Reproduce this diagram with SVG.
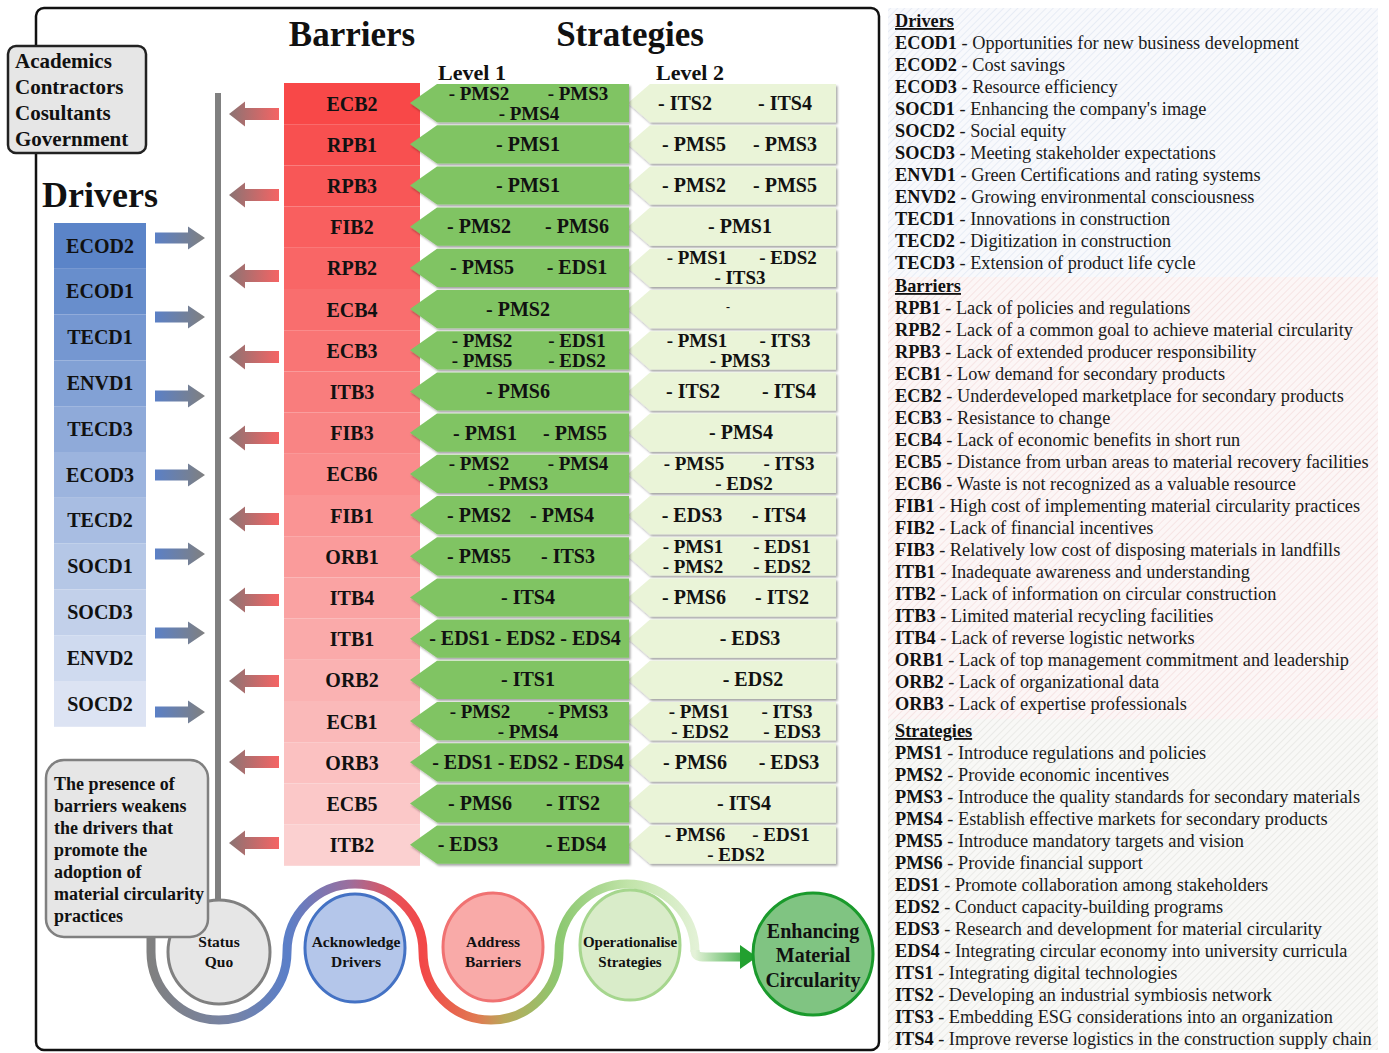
<svg xmlns="http://www.w3.org/2000/svg" xmlns:xlink="http://www.w3.org/1999/xlink" width="1389" height="1053" viewBox="0 0 1389 1053">
<style>
.b{font-family:"Liberation Serif","Times New Roman",serif;font-weight:bold;fill:#111}
.r{font-family:"Liberation Serif","Times New Roman",serif;fill:#1a1a1a}
.c19{font-size:20px;text-anchor:middle}
.c18{font-size:19px;text-anchor:middle}
.c20{font-size:20px;text-anchor:middle}
.lg{font-size:18.3px}
.hd{font-size:18.3px;font-weight:bold;text-decoration:underline}
.g1{fill:#80c464}
.g2{fill:#eaf4d8}
.sh{filter:url(#ds)}
</style>
<defs>
<filter id="ds" x="-5%" y="-10%" width="115%" height="135%"><feDropShadow dx="1.5" dy="2" stdDeviation="0.8" flood-color="#000" flood-opacity="0.35"/></filter>
<linearGradient id="gb" x1="0" y1="0" x2="1" y2="0"><stop offset="0" stop-color="#5b80c6"/><stop offset="1" stop-color="#808080"/></linearGradient>
<linearGradient id="gr" x1="0" y1="0" x2="1" y2="0"><stop offset="0" stop-color="#8a7373"/><stop offset="1" stop-color="#f56464"/></linearGradient>
<path id="ba" d="M0 -5.5 H33 V-11.5 L50 0 L33 11.5 V5.5 H0 Z" fill="url(#gb)"/>
<path id="ra" d="M0 0 L16 -12.5 V-6 H50 V6 H16 V12.5 Z" fill="url(#gr)"/>
<path id="cA" d="M27 0 H219 V38.2 H27 L0 19.1 Z"/>
<path id="cB" d="M22 0 H208 V38.2 H22 L0 19.1 Z"/>
<linearGradient id="w1" gradientUnits="userSpaceOnUse" x1="151" y1="0" x2="287" y2="0"><stop offset="0" stop-color="#808080"/><stop offset="0.6" stop-color="#7683a6"/><stop offset="1" stop-color="#5b7fc8"/></linearGradient>
<linearGradient id="w2" gradientUnits="userSpaceOnUse" x1="287" y1="0" x2="423" y2="0"><stop offset="0" stop-color="#5b7fc8"/><stop offset="0.45" stop-color="#9a6f9e"/><stop offset="0.8" stop-color="#e85058"/><stop offset="1" stop-color="#f24848"/></linearGradient>
<linearGradient id="w3" gradientUnits="userSpaceOnUse" x1="423" y1="0" x2="559" y2="0"><stop offset="0" stop-color="#f24848"/><stop offset="0.4" stop-color="#e07a52"/><stop offset="0.6" stop-color="#b9a85a"/><stop offset="1" stop-color="#8cc870"/></linearGradient>
<linearGradient id="w4" gradientUnits="userSpaceOnUse" x1="559" y1="0" x2="700" y2="0"><stop offset="0" stop-color="#8cc870"/><stop offset="0.5" stop-color="#c2e4aa"/><stop offset="1" stop-color="#e4f2d8"/></linearGradient>
<linearGradient id="w5" gradientUnits="userSpaceOnUse" x1="695" y1="0" x2="757" y2="0"><stop offset="0" stop-color="#e4f2d8"/><stop offset="1" stop-color="#22a030"/></linearGradient>
<pattern id="pb" width="5" height="5" patternUnits="userSpaceOnUse" patternTransform="rotate(45)"><rect width="5" height="5" fill="#f8f9fc"/><line x1="0" y1="0" x2="0" y2="5" stroke="#d6dfee" stroke-width="1"/></pattern>
<pattern id="pr" width="5" height="5" patternUnits="userSpaceOnUse" patternTransform="rotate(45)"><rect width="5" height="5" fill="#fcf6f6"/><line x1="0" y1="0" x2="0" y2="5" stroke="#f1d2d2" stroke-width="1"/></pattern>
<pattern id="pg" width="5" height="5" patternUnits="userSpaceOnUse" patternTransform="rotate(45)"><rect width="5" height="5" fill="#f8f8f6"/><line x1="0" y1="0" x2="0" y2="5" stroke="#dcdcd8" stroke-width="1"/></pattern>
</defs>
<rect width="1389" height="1053" fill="#ffffff"/>

<!-- main frame -->
<rect x="36" y="8" width="843" height="1042" rx="8" fill="#fff" stroke="#111" stroke-width="2.5"/>

<!-- legend panel -->
<g id="legend">
<rect x="888" y="8" width="490" height="269" fill="url(#pb)"/>
<rect x="888" y="277" width="490" height="442" fill="url(#pr)"/>
<rect x="888" y="719" width="490" height="331" fill="url(#pg)"/>
<text class="b hd" x="895" y="27">Drivers</text>
<text class="r lg" x="895" y="49"><tspan class="b">ECOD1</tspan> - Opportunities for new business development</text>
<text class="r lg" x="895" y="71"><tspan class="b">ECOD2</tspan> - Cost savings</text>
<text class="r lg" x="895" y="93"><tspan class="b">ECOD3</tspan> - Resource efficiency</text>
<text class="r lg" x="895" y="115"><tspan class="b">SOCD1</tspan> - Enhancing the company's image</text>
<text class="r lg" x="895" y="137"><tspan class="b">SOCD2</tspan> - Social equity</text>
<text class="r lg" x="895" y="159"><tspan class="b">SOCD3</tspan> - Meeting stakeholder expectations</text>
<text class="r lg" x="895" y="181"><tspan class="b">ENVD1</tspan> - Green Certifications and rating systems</text>
<text class="r lg" x="895" y="203"><tspan class="b">ENVD2</tspan> - Growing environmental consciousness</text>
<text class="r lg" x="895" y="225"><tspan class="b">TECD1</tspan> - Innovations in construction</text>
<text class="r lg" x="895" y="247"><tspan class="b">TECD2</tspan> - Digitization in construction</text>
<text class="r lg" x="895" y="269"><tspan class="b">TECD3</tspan> - Extension of product life cycle</text>
<text class="b hd" x="895" y="292">Barriers</text>
<text class="r lg" x="895" y="314"><tspan class="b">RPB1</tspan> - Lack of policies and regulations</text>
<text class="r lg" x="895" y="336"><tspan class="b">RPB2</tspan> - Lack of a common goal to achieve material circularity</text>
<text class="r lg" x="895" y="358"><tspan class="b">RPB3</tspan> - Lack of extended producer responsibility</text>
<text class="r lg" x="895" y="380"><tspan class="b">ECB1</tspan> - Low demand for secondary products</text>
<text class="r lg" x="895" y="402"><tspan class="b">ECB2</tspan> - Underdeveloped marketplace for secondary products</text>
<text class="r lg" x="895" y="424"><tspan class="b">ECB3</tspan> - Resistance to change</text>
<text class="r lg" x="895" y="446"><tspan class="b">ECB4</tspan> - Lack of economic benefits in short run</text>
<text class="r lg" x="895" y="468"><tspan class="b">ECB5</tspan> - Distance from urban areas to material recovery facilities</text>
<text class="r lg" x="895" y="490"><tspan class="b">ECB6</tspan> - Waste is not recognized as a valuable resource</text>
<text class="r lg" x="895" y="512"><tspan class="b">FIB1</tspan> - High cost of implementing material circularity practices</text>
<text class="r lg" x="895" y="534"><tspan class="b">FIB2</tspan> - Lack of financial incentives</text>
<text class="r lg" x="895" y="556"><tspan class="b">FIB3</tspan> - Relatively low cost of disposing materials in landfills</text>
<text class="r lg" x="895" y="578"><tspan class="b">ITB1</tspan> - Inadequate awareness and understanding</text>
<text class="r lg" x="895" y="600"><tspan class="b">ITB2</tspan> - Lack of information on circular construction</text>
<text class="r lg" x="895" y="622"><tspan class="b">ITB3</tspan> - Limited material recycling facilities</text>
<text class="r lg" x="895" y="644"><tspan class="b">ITB4</tspan> - Lack of reverse logistic networks</text>
<text class="r lg" x="895" y="666"><tspan class="b">ORB1</tspan> - Lack of top management commitment and leadership</text>
<text class="r lg" x="895" y="688"><tspan class="b">ORB2</tspan> - Lack of organizational data</text>
<text class="r lg" x="895" y="710"><tspan class="b">ORB3</tspan> - Lack of expertise professionals</text>
<text class="b hd" x="895" y="737">Strategies</text>
<text class="r lg" x="895" y="759"><tspan class="b">PMS1</tspan> - Introduce regulations and policies</text>
<text class="r lg" x="895" y="781"><tspan class="b">PMS2</tspan> - Provide economic incentives</text>
<text class="r lg" x="895" y="803"><tspan class="b">PMS3</tspan> - Introduce the quality standards for secondary materials</text>
<text class="r lg" x="895" y="825"><tspan class="b">PMS4</tspan> - Establish effective markets for secondary products</text>
<text class="r lg" x="895" y="847"><tspan class="b">PMS5</tspan> - Introduce mandatory targets and vision</text>
<text class="r lg" x="895" y="869"><tspan class="b">PMS6</tspan> - Provide financial support</text>
<text class="r lg" x="895" y="891"><tspan class="b">EDS1</tspan> - Promote collaboration among stakeholders</text>
<text class="r lg" x="895" y="913"><tspan class="b">EDS2</tspan> - Conduct capacity-building programs</text>
<text class="r lg" x="895" y="935"><tspan class="b">EDS3</tspan> - Research and development for material circularity</text>
<text class="r lg" x="895" y="957"><tspan class="b">EDS4</tspan> - Integrating circular economy into university curricula</text>
<text class="r lg" x="895" y="979"><tspan class="b">ITS1</tspan> - Integrating digital technologies</text>
<text class="r lg" x="895" y="1001"><tspan class="b">ITS2</tspan> - Developing an industrial symbiosis network</text>
<text class="r lg" x="895" y="1023"><tspan class="b">ITS3</tspan> - Embedding ESG considerations into an organization</text>
<text class="r lg" x="895" y="1045"><tspan class="b">ITS4</tspan> - Improve reverse logistics in the construction supply chain</text>
</g>

<!-- titles -->
<g id="titles">
<text class="b" x="352" y="46" font-size="35" text-anchor="middle">Barriers</text>
<text class="b" x="630" y="46" font-size="35" text-anchor="middle">Strategies</text>
<text class="b" x="472" y="80" font-size="22" text-anchor="middle">Level 1</text>
<text class="b" x="690" y="80" font-size="22" text-anchor="middle">Level 2</text>
<text class="b" x="42" y="207" font-size="36">Drivers</text>
</g>

<!-- connectors -->
<g id="connectors">
<line x1="218" y1="93" x2="218" y2="905" stroke="#808080" stroke-width="6"/>
<use href="#ba" x="155" y="238"/>
<use href="#ba" x="155" y="317"/>
<use href="#ba" x="155" y="396"/>
<use href="#ba" x="155" y="475"/>
<use href="#ba" x="155" y="554"/>
<use href="#ba" x="155" y="633"/>
<use href="#ba" x="155" y="712"/>
<use href="#ra" x="229" y="114"/>
<use href="#ra" x="229" y="195"/>
<use href="#ra" x="229" y="276"/>
<use href="#ra" x="229" y="357"/>
<use href="#ra" x="229" y="438"/>
<use href="#ra" x="229" y="519"/>
<use href="#ra" x="229" y="600"/>
<use href="#ra" x="229" y="681"/>
<use href="#ra" x="229" y="762"/>
<use href="#ra" x="229" y="843"/>
<g fill="none" stroke-width="9">
<path d="M151 925 L151 952 A68 68 0 0 0 287 952" stroke="url(#w1)"/>
<path d="M287 952 A68 68 0 0 1 423 952" stroke="url(#w2)"/>
<path d="M423 952 A68 68 0 0 0 559 952" stroke="url(#w3)"/>
<path d="M559 952 A68 68 0 0 1 695 952" stroke="url(#w4)"/>
<path d="M695 950 C695 956 698 957 706 957 L742 957" stroke="url(#w5)"/>
</g>
<polygon points="740,945 757,957 740,969" fill="#22a030"/>
</g>

<!-- stakeholders -->
<g id="stakeholders">
<rect x="8" y="46" width="138" height="107" rx="8" fill="#e6e6e6" stroke="#222" stroke-width="2.5"/>
<text class="b" x="15" y="68" font-size="21">Academics</text>
<text class="b" x="15" y="94" font-size="21">Contractors</text>
<text class="b" x="15" y="120" font-size="21">Cosultants</text>
<text class="b" x="15" y="146" font-size="21">Government</text>
</g>

<!-- drivers -->
<g id="drivers">
<rect x="54" y="223" width="92" height="45.8" fill="#5b84c8"/>
<rect x="54" y="268.8" width="92" height="45.8" fill="#688ecc"/>
<rect x="54" y="314.6" width="92" height="45.8" fill="#7597d1"/>
<rect x="54" y="360.4" width="92" height="45.8" fill="#82a1d5"/>
<rect x="54" y="406.2" width="92" height="45.8" fill="#8faad9"/>
<rect x="54" y="452" width="92" height="45.8" fill="#9cb4de"/>
<rect x="54" y="497.8" width="92" height="45.8" fill="#a8bde2"/>
<rect x="54" y="543.6" width="92" height="45.8" fill="#b5c7e6"/>
<rect x="54" y="589.4" width="92" height="45.8" fill="#c2d0ea"/>
<rect x="54" y="635.2" width="92" height="45.8" fill="#cfdaef"/>
<rect x="54" y="681" width="92" height="45.8" fill="#dce3f3"/>
<text class="b c20" x="100" y="252.5">ECOD2</text>
<text class="b c20" x="100" y="298.3">ECOD1</text>
<text class="b c20" x="100" y="344.1">TECD1</text>
<text class="b c20" x="100" y="389.9">ENVD1</text>
<text class="b c20" x="100" y="435.7">TECD3</text>
<text class="b c20" x="100" y="481.5">ECOD3</text>
<text class="b c20" x="100" y="527.3">TECD2</text>
<text class="b c20" x="100" y="573.1">SOCD1</text>
<text class="b c20" x="100" y="618.9">SOCD3</text>
<text class="b c20" x="100" y="664.7">ENVD2</text>
<text class="b c20" x="100" y="710.5">SOCD2</text>
</g>

<!-- barriers -->
<g id="barriers">
<rect x="284" y="83" width="136" height="41.2" fill="#f84848"/>
<rect x="284" y="124.2" width="136" height="41.2" fill="#f85050"/>
<rect x="284" y="165.4" width="136" height="41.2" fill="#f85757"/>
<rect x="284" y="206.6" width="136" height="41.2" fill="#f95f5f"/>
<rect x="284" y="247.8" width="136" height="41.2" fill="#f96666"/>
<rect x="284" y="289" width="136" height="41.2" fill="#f96e6e"/>
<rect x="284" y="330.2" width="136" height="41.2" fill="#f97575"/>
<rect x="284" y="371.4" width="136" height="41.2" fill="#f97d7d"/>
<rect x="284" y="412.6" width="136" height="41.2" fill="#f98484"/>
<rect x="284" y="453.8" width="136" height="41.2" fill="#fa8c8c"/>
<rect x="284" y="495" width="136" height="41.2" fill="#fa9494"/>
<rect x="284" y="536.2" width="136" height="41.2" fill="#fa9b9b"/>
<rect x="284" y="577.4" width="136" height="41.2" fill="#faa3a3"/>
<rect x="284" y="618.6" width="136" height="41.2" fill="#faaaaa"/>
<rect x="284" y="659.8" width="136" height="41.2" fill="#fab2b2"/>
<rect x="284" y="701" width="136" height="41.2" fill="#fab9b9"/>
<rect x="284" y="742.2" width="136" height="41.2" fill="#fbc1c1"/>
<rect x="284" y="783.4" width="136" height="41.2" fill="#fbc8c8"/>
<rect x="284" y="824.6" width="136" height="41.2" fill="#fbd0d0"/>
<text class="b c20" x="352" y="110.6">ECB2</text>
<text class="b c20" x="352" y="151.8">RPB1</text>
<text class="b c20" x="352" y="193">RPB3</text>
<text class="b c20" x="352" y="234.2">FIB2</text>
<text class="b c20" x="352" y="275.4">RPB2</text>
<text class="b c20" x="352" y="316.6">ECB4</text>
<text class="b c20" x="352" y="357.8">ECB3</text>
<text class="b c20" x="352" y="399">ITB3</text>
<text class="b c20" x="352" y="440.2">FIB3</text>
<text class="b c20" x="352" y="481.4">ECB6</text>
<text class="b c20" x="352" y="522.6">FIB1</text>
<text class="b c20" x="352" y="563.8">ORB1</text>
<text class="b c20" x="352" y="605">ITB4</text>
<text class="b c20" x="352" y="646.2">ITB1</text>
<text class="b c20" x="352" y="687.4">ORB2</text>
<text class="b c20" x="352" y="728.6">ECB1</text>
<text class="b c20" x="352" y="769.8">ORB3</text>
<text class="b c20" x="352" y="811">ECB5</text>
<text class="b c20" x="352" y="852.2">ITB2</text>
</g>

<!-- level 2 strategies -->
<g id="level2" class="sh">
<g class="g2">
<use href="#cB" x="628" y="84"/>
<use href="#cB" x="628" y="125.2"/>
<use href="#cB" x="628" y="166.4"/>
<use href="#cB" x="628" y="207.6"/>
<use href="#cB" x="628" y="248.8"/>
<use href="#cB" x="628" y="290"/>
<use href="#cB" x="628" y="331.2"/>
<use href="#cB" x="628" y="372.4"/>
<use href="#cB" x="628" y="413.6"/>
<use href="#cB" x="628" y="454.8"/>
<use href="#cB" x="628" y="496"/>
<use href="#cB" x="628" y="537.2"/>
<use href="#cB" x="628" y="578.4"/>
<use href="#cB" x="628" y="619.6"/>
<use href="#cB" x="628" y="660.8"/>
<use href="#cB" x="628" y="702"/>
<use href="#cB" x="628" y="743.2"/>
<use href="#cB" x="628" y="784.4"/>
<use href="#cB" x="628" y="825.6"/>
</g>
</g>
<g id="level2-text">
<text class="b c19" x="685" y="109.6">- ITS2</text><text class="b c19" x="785" y="109.6">- ITS4</text>
<text class="b c19" x="694" y="150.8">- PMS5</text><text class="b c19" x="785" y="150.8">- PMS3</text>
<text class="b c19" x="694" y="192">- PMS2</text><text class="b c19" x="785" y="192">- PMS5</text>
<text class="b c19" x="740" y="233.2">- PMS1</text>
<text class="b c18" x="697" y="264.4">- PMS1</text><text class="b c18" x="788" y="264.4">- EDS2</text><text class="b c18" x="740" y="284.4">- ITS3</text>
<text class="b" x="728" y="311" font-size="12" text-anchor="middle">-</text>
<text class="b c18" x="697" y="346.8">- PMS1</text><text class="b c18" x="785" y="346.8">- ITS3</text><text class="b c18" x="740" y="366.8">- PMS3</text>
<text class="b c19" x="693" y="398">- ITS2</text><text class="b c19" x="789" y="398">- ITS4</text>
<text class="b c19" x="741" y="439.2">- PMS4</text>
<text class="b c18" x="694" y="470.4">- PMS5</text><text class="b c18" x="789" y="470.4">- ITS3</text><text class="b c18" x="744" y="490.4">- EDS2</text>
<text class="b c19" x="692" y="521.6">- EDS3</text><text class="b c19" x="779" y="521.6">- ITS4</text>
<text class="b c18" x="693" y="552.8">- PMS1</text><text class="b c18" x="782" y="552.8">- EDS1</text><text class="b c18" x="693" y="572.8">- PMS2</text><text class="b c18" x="782" y="572.8">- EDS2</text>
<text class="b c19" x="694" y="604">- PMS6</text><text class="b c19" x="782" y="604">- ITS2</text>
<text class="b c19" x="750" y="645.2">- EDS3</text>
<text class="b c19" x="753" y="686.4">- EDS2</text>
<text class="b c18" x="699" y="717.6">- PMS1</text><text class="b c18" x="787" y="717.6">- ITS3</text><text class="b c18" x="700" y="737.6">- EDS2</text><text class="b c18" x="792" y="737.6">- EDS3</text>
<text class="b c19" x="695" y="768.8">- PMS6</text><text class="b c19" x="789" y="768.8">- EDS3</text>
<text class="b c19" x="744" y="810">- ITS4</text>
<text class="b c18" x="695" y="841.2">- PMS6</text><text class="b c18" x="781" y="841.2">- EDS1</text><text class="b c18" x="736" y="861.2">- EDS2</text>
</g>

<!-- level 1 strategies -->
<g id="level1" class="sh">
<g class="g1">
<use href="#cA" x="410" y="84"/>
<use href="#cA" x="410" y="125.2"/>
<use href="#cA" x="410" y="166.4"/>
<use href="#cA" x="410" y="207.6"/>
<use href="#cA" x="410" y="248.8"/>
<use href="#cA" x="410" y="290"/>
<use href="#cA" x="410" y="331.2"/>
<use href="#cA" x="410" y="372.4"/>
<use href="#cA" x="410" y="413.6"/>
<use href="#cA" x="410" y="454.8"/>
<use href="#cA" x="410" y="496"/>
<use href="#cA" x="410" y="537.2"/>
<use href="#cA" x="410" y="578.4"/>
<use href="#cA" x="410" y="619.6"/>
<use href="#cA" x="410" y="660.8"/>
<use href="#cA" x="410" y="702"/>
<use href="#cA" x="410" y="743.2"/>
<use href="#cA" x="410" y="784.4"/>
<use href="#cA" x="410" y="825.6"/>
</g>
</g>
<g id="level1-text">
<text class="b c18" x="479" y="99.6">- PMS2</text><text class="b c18" x="578" y="99.6">- PMS3</text><text class="b c18" x="529" y="119.6">- PMS4</text>
<text class="b c19" x="528" y="150.8">- PMS1</text>
<text class="b c19" x="528" y="192">- PMS1</text>
<text class="b c19" x="479" y="233.2">- PMS2</text><text class="b c19" x="577" y="233.2">- PMS6</text>
<text class="b c19" x="482" y="274.4">- PMS5</text><text class="b c19" x="577" y="274.4">- EDS1</text>
<text class="b c19" x="518" y="315.6">- PMS2</text>
<text class="b c18" x="482" y="346.8">- PMS2</text><text class="b c18" x="577" y="346.8">- EDS1</text><text class="b c18" x="482" y="366.8">- PMS5</text><text class="b c18" x="577" y="366.8">- EDS2</text>
<text class="b c19" x="518" y="398">- PMS6</text>
<text class="b c19" x="485" y="440">- PMS1</text><text class="b c19" x="575" y="440">- PMS5</text>
<text class="b c18" x="479" y="470.4">- PMS2</text><text class="b c18" x="578" y="470.4">- PMS4</text><text class="b c18" x="518" y="490.4">- PMS3</text>
<text class="b c19" x="479" y="521.6">- PMS2</text><text class="b c19" x="562" y="521.6">- PMS4</text>
<text class="b c19" x="479" y="562.8">- PMS5</text><text class="b c19" x="568" y="562.8">- ITS3</text>
<text class="b c19" x="528" y="604">- ITS4</text>
<text class="b c19" x="525" y="645.2">- EDS1 - EDS2 - EDS4</text>
<text class="b c19" x="528" y="686.4">- ITS1</text>
<text class="b c18" x="480" y="717.6">- PMS2</text><text class="b c18" x="578" y="717.6">- PMS3</text><text class="b c18" x="528" y="737.6">- PMS4</text>
<text class="b c19" x="528" y="768.8">- EDS1 - EDS2 - EDS4</text>
<text class="b c19" x="480" y="810">- PMS6</text><text class="b c19" x="573" y="810">- ITS2</text>
<text class="b c19" x="468" y="851.2">- EDS3</text><text class="b c19" x="576" y="851.2">- EDS4</text>
</g>

<!-- process circles -->
<g id="status-quo">
<ellipse cx="219" cy="952" rx="51" ry="52" fill="#e6e6e6" stroke="#808080" stroke-width="3"/>
<text class="b" x="219" y="947" font-size="15.5" text-anchor="middle">Status</text>
<text class="b" x="219" y="967" font-size="15.5" text-anchor="middle">Quo</text>
</g>
<g id="note">
<rect x="46" y="760" width="162" height="177" rx="18" fill="#e6e6e6" stroke="#808080" stroke-width="2.5"/>
<text class="b" x="54" y="790" font-size="18">The presence of</text>
<text class="b" x="54" y="812" font-size="18">barriers weakens</text>
<text class="b" x="54" y="834" font-size="18">the drivers that</text>
<text class="b" x="54" y="856" font-size="18">promote the</text>
<text class="b" x="54" y="878" font-size="18">adoption of</text>
<text class="b" x="54" y="900" font-size="18">material circularity</text>
<text class="b" x="54" y="922" font-size="18">practices</text>
</g>
<g id="acknowledge">
<ellipse cx="355" cy="948" rx="50" ry="54" fill="#b4c6ea" stroke="#4472c4" stroke-width="3"/>
<text class="b" x="356" y="947" font-size="15.5" text-anchor="middle">Acknowledge</text>
<text class="b" x="356" y="967" font-size="15.5" text-anchor="middle">Drivers</text>
</g>
<g id="address">
<ellipse cx="493" cy="947" rx="50" ry="54" fill="#f9aaa8" stroke="#f07272" stroke-width="3"/>
<text class="b" x="493" y="947" font-size="15.5" text-anchor="middle">Address</text>
<text class="b" x="493" y="967" font-size="15.5" text-anchor="middle">Barriers</text>
</g>
<g id="operationalise">
<ellipse cx="630" cy="945" rx="50" ry="55" fill="#d9ecc9" stroke="#a6d68e" stroke-width="3"/>
<text class="b" x="630" y="947" font-size="15" text-anchor="middle">Operationalise</text>
<text class="b" x="630" y="967" font-size="15" text-anchor="middle">Strategies</text>
</g>
<g id="enhancing">
<ellipse cx="813" cy="954" rx="60" ry="61" fill="#80c482" stroke="#1a9a2c" stroke-width="3"/>
<text class="b" x="813" y="938" font-size="20" text-anchor="middle">Enhancing</text>
<text class="b" x="813" y="962" font-size="20" text-anchor="middle">Material</text>
<text class="b" x="813" y="987" font-size="20" text-anchor="middle">Circularity</text>
</g>
</svg>
